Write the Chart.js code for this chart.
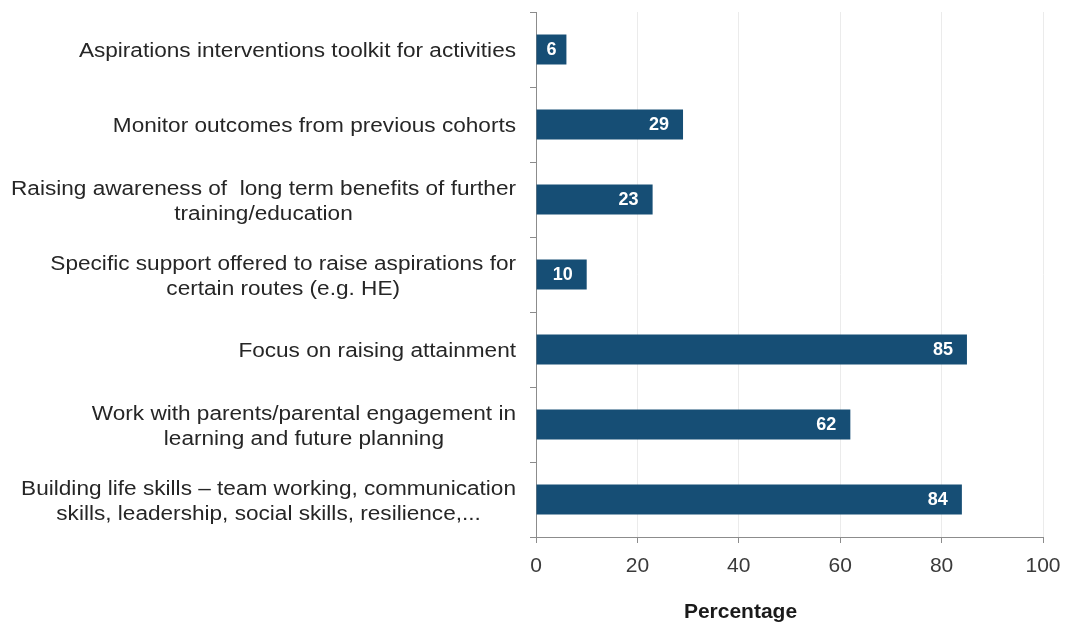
<!DOCTYPE html>
<html>
<head>
<meta charset="utf-8">
<script src="https://cdn.jsdelivr.net/npm/chart.js@4"></script>
<style>
  html, body { margin: 0; padding: 0; background: #fff; }
  #wrap { width: 1066px; height: 628px; }
</style>
</head>
<body>
<div id="wrap"><canvas id="chart" width="1066" height="628"></canvas></div>
<script>
const categories = [
  ["Aspirations interventions toolkit for activities"],
  ["Monitor outcomes from previous cohorts"],
  ["Raising awareness of  long term benefits of further", "training/education"],
  ["Specific support offered to raise aspirations for", "certain routes (e.g. HE)"],
  ["Focus on raising attainment"],
  ["Work with parents/parental engagement in", "learning and future planning"],
  ["Building life skills \u2013 team working, communication", "skills, leadership, social skills, resilience,..."]
];
const percentages = [6, 29, 23, 10, 85, 62, 84];
const xTicks = [0, 20, 40, 60, 80, 100];
const axisTitle = "Percentage";

const FONT = "'Liberation Sans', Arial, sans-serif";
const BAR = "#164e75";

// category labels: block right-aligned, lines centred within the block
const categoryLabels = {
  id: "categoryLabels",
  afterDraw(chart) {
    const { ctx } = chart;
    const y = chart.scales.y;
    const right = chart.chartArea.left - 20;
    const sx = 1.13;
    ctx.save();
    ctx.font = "20px " + FONT;
    ctx.fillStyle = "#262626";
    ctx.textAlign = "center";
    ctx.textBaseline = "middle";
    categories.forEach((lines, i) => {
      const cy = y.getPixelForTick(i) + 2;
      const widest = Math.max(...lines.map(l => ctx.measureText(l).width));
      ctx.save();
      ctx.translate(right, cy);
      ctx.scale(sx, 1);
      lines.forEach((line, j) => {
        ctx.fillText(line, -widest / 2, (j - (lines.length - 1) / 2) * 25);
      });
      ctx.restore();
    });
    ctx.restore();
  }
};

// white values inside the end of each bar, plus the x axis title
const barValues = {
  id: "barValues",
  afterDatasetsDraw(chart) {
    const { ctx } = chart;
    const meta = chart.getDatasetMeta(0);
    ctx.save();
    ctx.font = "bold 18px " + FONT;
    ctx.fillStyle = "#ffffff";
    ctx.textAlign = "right";
    ctx.textBaseline = "middle";
    meta.data.forEach((bar, i) => {
      const pad = percentages[i] < 8 ? 10 : 14;
      ctx.fillText(String(percentages[i]), bar.x - pad, bar.y + 1);
    });
    ctx.restore();
  },
  afterDraw(chart) {
    const { ctx, chartArea } = chart;
    ctx.save();
    ctx.font = "bold 21px " + FONT;
    ctx.fillStyle = "#1a1a1a";
    ctx.textAlign = "center";
    ctx.textBaseline = "middle";
    const cx = (chartArea.left + chartArea.right) / 2 - 49;
    ctx.fillText(axisTitle, cx, chartArea.bottom + 75);
    ctx.restore();
  }
};

new Chart(document.getElementById("chart"), {
  type: "bar",
  data: {
    labels: categories,
    datasets: [{
      data: percentages,
      backgroundColor: BAR,
      borderWidth: 0,
      barPercentage: 0.4,
      categoryPercentage: 1,
    }],
  },
  options: {
    indexAxis: "y",
    responsive: false,
    animation: false,
    layout: { padding: { top: 12, right: 23, left: 0, bottom: 0 } },
    scales: {
      x: {
        min: 0,
        max: 100,
        afterBuildTicks: scale => { scale.ticks = xTicks.map(v => ({ value: v })); },
        afterFit: scale => {
          scale.height = 91;
          scale.paddingLeft = 0;
          scale.paddingRight = 0;
        },
        border: { color: "#8c8c8c", width: 1 },
        grid: { color: "#ebebeb", tickColor: "#8c8c8c", tickLength: 6 },
        ticks: { color: "#3a3a3a", font: { family: FONT, size: 21 }, padding: 11 },
      },
      y: {
        afterFit: scale => { scale.width = 536; },
        border: { color: "#8c8c8c", width: 1 },
        grid: { offset: true, drawOnChartArea: false, color: "#8c8c8c", tickLength: 6 },
        ticks: { display: false },
      },
    },
    plugins: {
      legend: { display: false },
      tooltip: { enabled: false },
    },
  },
  plugins: [categoryLabels, barValues],
});
</script>
</body>
</html>
